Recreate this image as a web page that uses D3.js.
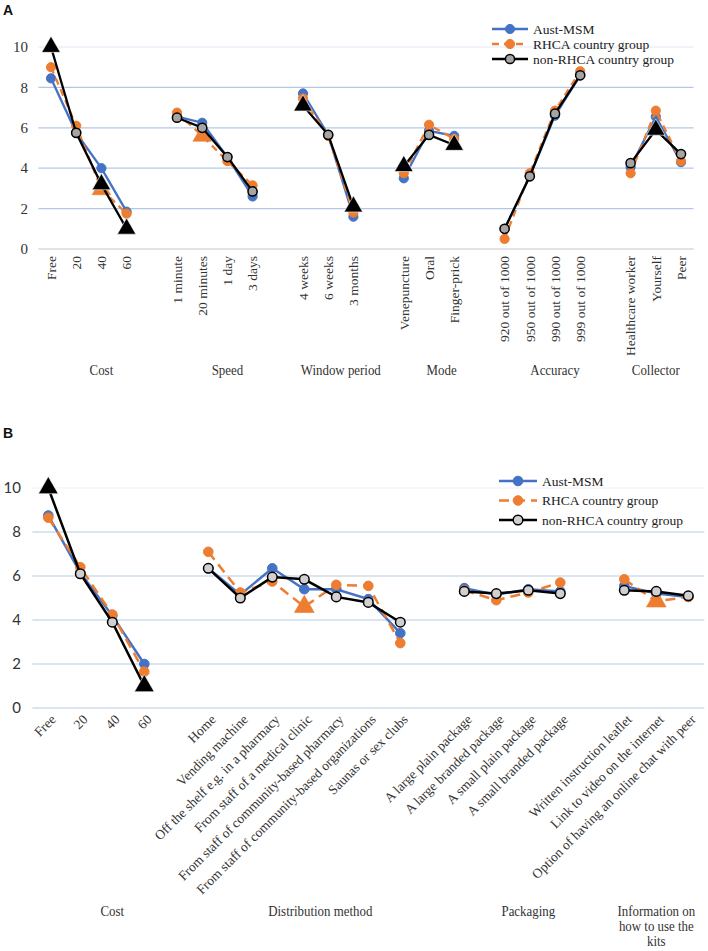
<!DOCTYPE html>
<html lang="en">
<head>
  <meta charset="UTF-8">
  <title>Test kit preferences</title>
  <script src="https://cdn.jsdelivr.net/npm/d3@7"></script>
  <style>
    body { margin: 0; background: #fff; }
    svg text { fill: #333; }
    .serif { font-family: "Liberation Serif", "DejaVu Serif", serif; }
    .panel-tag { font-family: "Liberation Sans", Arial, sans-serif; font-weight: bold; font-size: 14px; fill: #111; }
  </style>
</head>
<body>
  <div id="chart"></div>
  <script>
    // ---- Panel A data ----
    const aGroups = ["Cost", "Speed", "Window period", "Mode", "Accuracy", "Collector"];
    const aLevels = [
      ["Free", "20", "40", "60"],
      ["1 minute", "20 minutes", "1 day", "3 days"],
      ["4 weeks", "6 weeks", "3 months"],
      ["Venepuncture", "Oral", "Finger-prick"],
      ["920 out of 1000", "950 out of 1000", "990 out of 1000", "999 out of 1000"],
      ["Healthcare worker", "Yourself", "Peer"]
    ];
    const aAust = [
      [8.45, 5.75, 4.0, 1.85],
      [6.55, 6.25, 4.55, 2.6],
      [7.7, 5.65, 1.6],
      [3.5, 5.85, 5.6],
      [1.0, 3.6, 6.6, 8.6],
      [4.05, 6.55, 4.3]
    ];
    const aRhca = [
      [9.0, 6.1, 2.95, 1.75],
      [6.75, 5.6, 4.35, 3.15],
      [7.45, 5.6, 1.8],
      [3.75, 6.15, 5.45],
      [0.5, 3.75, 6.85, 8.8],
      [3.75, 6.85, 4.35]
    ];
    const aNon = [
      [10.0, 5.75, 3.2, 1.0],
      [6.5, 6.0, 4.55, 2.85],
      [7.1, 5.65, 2.1],
      [4.1, 5.65, 5.15],
      [1.0, 3.6, 6.7, 8.6],
      [4.25, 5.9, 4.7]
    ];
    const aRhcaTri = ["40", "20 minutes"];
    const aNonTri = ["Free", "40", "60", "4 weeks", "3 months", "Venepuncture", "Finger-prick", "Yourself"];

    // ---- Panel B data ----
    const bGroups = ["Cost", "Distribution method", "Packaging", "Information on how to use the kits"];
    const bLevels = [
      ["Free", "20", "40", "60"],
      ["Home", "Vending machine", "Off the shelf e.g. in a pharmacy", "From staff of a medical clinic",
       "From staff of community-based pharmacy", "From staff of community-based organizations", "Saunas or sex clubs"],
      ["A large plain package", "A large branded package", "A small plain package", "A small branded package"],
      ["Written instruction leaflet", "Link to video on the internet", "Option of having an online chat with peer"]
    ];
    const bAust = [
      [8.75, 6.15, 4.2, 2.0],
      [6.35, 5.15, 6.35, 5.4, 5.4, 4.95, 3.4],
      [5.45, 5.15, 5.4, 5.3],
      [5.55, 5.2, 5.05]
    ];
    const bRhca = [
      [8.65, 6.4, 4.25, 1.65],
      [7.1, 5.25, 5.75, 4.6, 5.6, 5.55, 2.95],
      [5.35, 4.9, 5.25, 5.7],
      [5.85, 4.85, 5.05]
    ];
    const bNon = [
      [10.0, 6.1, 3.9, 1.0],
      [6.35, 5.0, 5.95, 5.85, 5.05, 4.8, 3.9],
      [5.3, 5.2, 5.35, 5.2],
      [5.35, 5.3, 5.1]
    ];
    const bRhcaTri = ["From staff of a medical clinic", "Link to video on the internet"];
    const bNonTri = ["Free", "60"];

    const seriesNames = ["Aust-MSM", "RHCA country group", "non-RHCA country group"];
    const yTicks = [0, 2, 4, 6, 8, 10];

    const W = 708, H = 951;
    const svg = d3.select("#chart").append("svg").attr("width", W).attr("height", H);

    // flatten levels into slots with a blank slot between groups
    function buildSlots(levels, groups) {
      const slots = [], spans = [];
      levels.forEach((lv, gi) => {
        const start = slots.length;
        lv.forEach(l => slots.push({ label: l, group: gi }));
        if (gi < levels.length - 1) slots.push({ label: "", group: gi });
        spans.push({ name: groups[gi], start: start, end: slots.length - 1 });
      });
      return { slots, spans };
    }

    function flatVals(levels, vals) {
      const out = [];
      levels.forEach((lv, gi) => {
        lv.forEach((l, i) => out.push({ label: l, v: vals[gi][i] }));
        if (gi < levels.length - 1) out.push({ label: "", v: null });
      });
      return out;
    }

    const colors = ["#4472c4", "#ed7d31", "#000000"];

    function drawPanel(cfg) {
      const { slots, spans } = buildSlots(cfg.levels, cfg.groups);
      const g = svg.append("g");
      const x = d3.scaleBand().domain(d3.range(slots.length)).range([cfg.x0, cfg.x1]);
      const cx = i => x(i) + x.bandwidth() / 2;
      const y = d3.scaleLinear().domain([0, 10]).range([cfg.y0, cfg.y0 - 10 * cfg.unit]);

      // gridlines
      g.selectAll(".grid").data(yTicks).join("line")
        .attr("x1", cfg.x0).attr("x2", cfg.x1)
        .attr("y1", d => y(d)).attr("y2", d => y(d))
        .attr("stroke", d => d === 0 ? cfg.axisColor : cfg.gridColor)
        .attr("stroke-opacity", d => d === 10 ? 0.25 : 1)
        .attr("stroke-width", 1.3);

      // y tick labels
      g.selectAll(".ytick").data(yTicks).join("text")
        .attr("x", cfg.yLabelX).attr("y", d => y(d)).attr("dy", "0.35em")
        .attr("text-anchor", "end")
        .style("font-family", cfg.yFont).style("font-size", cfg.yFontSize + "px")
        .text(d => d);

      // x tick labels
      const lab = g.selectAll(".xtick").data(slots.map((s, i) => ({ s, i })).filter(d => d.s.label !== ""))
        .join("text").attr("class", "serif")
        .style("font-size", cfg.xFontSize + "px")
        .attr("text-anchor", "end")
        .text(d => d.s.label);
      if (cfg.rot === -90) {
        lab.attr("transform", d => `translate(${cx(d.i)},${cfg.y0 + 7}) rotate(-90)`).attr("dy", "0.35em");
      } else {
        lab.attr("transform", d => `translate(${cx(d.i) + 5},${cfg.y0 + 9}) rotate(-45)`).attr("dy", "0.35em");
      }

      // group labels (slightly condensed like the original)
      spans.forEach(sp => {
        const mid = (cx(sp.start) + cx(sp.end)) / 2;
        const t = g.append("text").attr("class", "serif").attr("text-anchor", "middle")
          .style("font-size", cfg.gFontSize + "px")
          .attr("transform", `translate(${mid},${cfg.gY}) scale(0.86,1)`);
        const lines = cfg.wrap[sp.name] || [sp.name];
        lines.forEach((ln, k) => t.append("tspan").attr("x", 0).attr("dy", k === 0 ? 0 : cfg.gLine).text(ln));
      });

      // series
      const all = [cfg.aust, cfg.rhca, cfg.non];
      const tris = [[], cfg.rhcaTri, cfg.nonTri];
      const line = d3.line().defined(d => d.v !== null).x(d => cx(d.i)).y(d => y(d.v));
      all.forEach((vals, si) => {
        const pts = flatVals(cfg.levels, vals).map((d, i) => ({ ...d, i }));
        g.append("path").datum(pts).attr("d", line)
          .attr("fill", "none").attr("stroke", colors[si]).attr("stroke-width", cfg.lw)
          .attr("stroke-dasharray", si === 1 ? cfg.dash : null);
        const good = pts.filter(d => d.v !== null);
        const circ = good.filter(d => !tris[si].includes(d.label));
        const tri = good.filter(d => tris[si].includes(d.label));
        g.selectAll(null).data(circ).join("circle")
          .attr("cx", d => cx(d.i)).attr("cy", d => y(d.v)).attr("r", cfg.r)
          .attr("fill", si === 2 ? cfg.nonFill : colors[si])
          .attr("stroke", si === 2 ? "#000" : colors[si]).attr("stroke-width", si === 2 ? 1.5 : 1);
        g.selectAll(null).data(tri).join("path")
          .attr("d", d3.symbol(d3.symbolTriangle, cfg.triSize))
          .attr("transform", d => `translate(${cx(d.i)},${y(d.v)})`)
          .attr("fill", colors[si]).attr("stroke", si === 2 ? "#fff" : colors[si]).attr("stroke-width", 0.6);
      });

      // legend
      const lg = g.append("g").attr("transform", `translate(${cfg.legX},${cfg.legY})`);
      seriesNames.forEach((n, si) => {
        const row = lg.append("g").attr("transform", `translate(0,${si * cfg.legGap})`);
        row.append("line").attr("x1", 0).attr("x2", cfg.legLen).attr("y1", 0).attr("y2", 0)
          .attr("stroke", colors[si]).attr("stroke-width", cfg.lw)
          .attr("stroke-dasharray", si === 1 ? cfg.dash : null);
        row.append("circle").attr("cx", cfg.legLen / 2).attr("cy", 0).attr("r", cfg.r)
          .attr("fill", si === 2 ? cfg.nonFill : colors[si])
          .attr("stroke", si === 2 ? "#000" : colors[si]).attr("stroke-width", si === 2 ? 1.5 : 1);
        row.append("text").attr("class", "serif").attr("x", cfg.legLen + 5).attr("dy", "0.35em")
          .style("font-size", cfg.legFont + "px").style("fill", "#222").text(n);
      });
    }

    svg.append("text").attr("class", "panel-tag").attr("x", 3).attr("y", 15).text("A");
    svg.append("text").attr("class", "panel-tag").attr("x", 3).attr("y", 438).text("B");

    drawPanel({
      levels: aLevels, groups: aGroups, aust: aAust, rhca: aRhca, non: aNon,
      rhcaTri: aRhcaTri, nonTri: aNonTri,
      x0: 38.4, x1: 693.6, y0: 249, unit: 20.2,
      gridColor: "#b4c7e7", axisColor: "#d9d9d9",
      yLabelX: 28, yFont: "Liberation Serif", yFontSize: 15,
      xFontSize: 13.5, rot: -90, gFontSize: 15, gY: 375, gLine: 18, wrap: {},
      lw: 2.3, dash: "7,5", r: 4.6, triSize: 150, nonFill: "#a5a5a5",
      legX: 492, legY: 29, legLen: 36, legGap: 15, legFont: 13.5
    });

    drawPanel({
      levels: bLevels, groups: bGroups, aust: bAust, rhca: bRhca, non: bNon,
      rhcaTri: bRhcaTri, nonTri: bNonTri,
      x0: 32.3, x1: 704.3, y0: 708, unit: 22,
      gridColor: "#cfdcec", axisColor: "#cfdcec",
      yLabelX: 21, yFont: "Lato", yFontSize: 15,
      xFontSize: 13.5, rot: -45, gFontSize: 15, gY: 916, gLine: 15,
      wrap: { "Information on how to use the kits": ["Information on", "how to use the", "kits"] },
      lw: 2.5, dash: "10,6", r: 4.8, triSize: 170, nonFill: "#d0d0d0",
      legX: 499, legY: 481, legLen: 38, legGap: 19.5, legFont: 13.5
    });
  </script>
</body>
</html>
